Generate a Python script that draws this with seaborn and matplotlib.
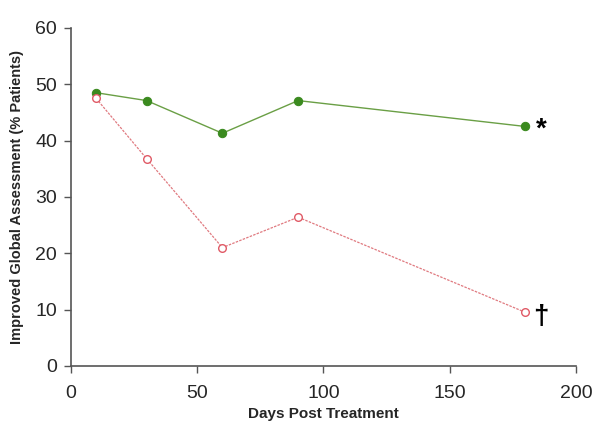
import matplotlib
matplotlib.use("Agg")
import matplotlib.pyplot as plt
import seaborn as sns
import pandas as pd

days = [10, 30, 60, 90, 180]
treated = [48.5, 47.1, 41.3, 47.1, 42.5]
control = [47.5, 36.8, 21.0, 26.4, 9.5]

sns.set_style("ticks")
plt.rcParams['font.family'] = ['Liberation Sans', 'DejaVu Sans']

fig = plt.figure(figsize=(6.0, 4.43), dpi=100)
ax = fig.add_axes([0.118, 0.174, 0.842, 0.763])

df_t = pd.DataFrame({"Days": days, "Value": treated})
df_c = pd.DataFrame({"Days": days, "Value": control})

sns.lineplot(data=df_t, x="Days", y="Value", ax=ax, color="#6a9f45", lw=1.0,
             marker="o", markersize=6, markerfacecolor="#3b8a1f",
             markeredgecolor="#3b8a1f")
sns.lineplot(data=df_c, x="Days", y="Value", ax=ax, color="#e07a80", lw=0.9,
             linestyle=(0, (2, 1)), marker="o", markersize=5.5,
             markerfacecolor="white", markeredgecolor="#e05a66",
             markeredgewidth=1.0)

ax.text(184, treated[-1] - 0.5, "*", fontsize=20, fontweight="bold", va="center",
        ha="left", color="black")
ax.text(183, control[-1] - 0.8, "†", fontsize=20, fontweight="bold",
        va="center", ha="left", color="black")

ax.set_xlim(0, 200)
ax.set_ylim(0, 60)
ax.set_xticks([0, 50, 100, 150, 200])
ax.set_yticks([0, 10, 20, 30, 40, 50, 60])
ax.tick_params(axis="both", labelsize=14, length=5, width=1, color="#555555",
               direction="out")
ax.tick_params(axis="x", pad=9)
ax.tick_params(axis="y", pad=5)
ax.set_xlabel("Days Post Treatment", fontsize=11, fontweight="bold", labelpad=3)
ax.set_ylabel("Improved Global Assessment (% Patients)", fontsize=10.5,
              fontweight="bold", labelpad=8)
for s in ["left", "bottom"]:
    ax.spines[s].set_color("#555555")
    ax.spines[s].set_linewidth(1.2)
sns.despine(ax=ax)

fig.savefig("out.png", dpi=100)
